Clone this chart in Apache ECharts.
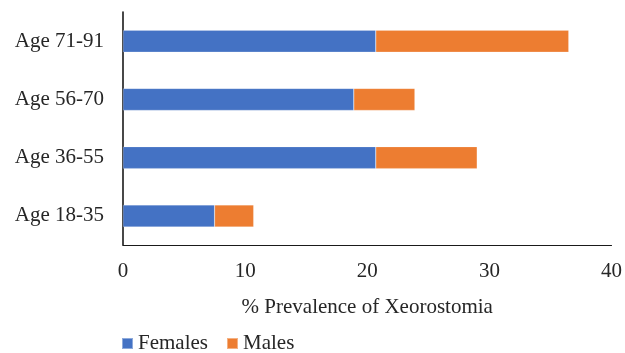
<!DOCTYPE html>
<html>
<head>
<meta charset="utf-8">
<script src="https://cdn.jsdelivr.net/npm/echarts@6/dist/echarts.min.js"></script>
<style>
  html, body { margin: 0; padding: 0; background: #fff; }
  #chart { width: 625px; height: 353px; }
</style>
</head>
<body>
<div id="chart"></div>
<script>
// Age groups, bottom to top
const ageGroups = ['Age 18-35', 'Age 36-55', 'Age 56-70', 'Age 71-91'];
// % prevalence of xerostomia by sex
const females = [7.5, 20.7, 18.9, 20.7];
const males = [3.2, 8.3, 5.0, 15.8];
const xTicks = { min: 0, max: 40, interval: 10 };

const font = 'Liberation Serif';
const textColor = '#262626';

const chart = echarts.init(document.getElementById('chart'));
chart.setOption({
  animation: false,
  textStyle: { fontFamily: font },
  grid: { left: 123, right: 12, top: 12, bottom: 108, containLabel: false },
  legend: {
    data: [
      { name: 'Females', textStyle: { fontFamily: font, fontSize: 21, color: textColor } },
      { name: 'Males', textStyle: { fontFamily: font, fontSize: 21, color: textColor } }
    ],
    left: 121,
    top: 333,
    padding: 0,
    icon: 'rect',
    itemWidth: 11,
    itemHeight: 11,
    itemGap: 18,
    textStyle: { fontFamily: font, fontSize: 21, color: textColor }
  },
  xAxis: {
    type: 'value',
    min: xTicks.min,
    max: xTicks.max,
    interval: xTicks.interval,
    name: '% Prevalence of Xeorostomia',
    nameLocation: 'middle',
    nameGap: 52,
    nameTextStyle: { fontFamily: font, fontSize: 21, color: textColor },
    axisLine: { show: true, lineStyle: { color: '#1a1a1a', width: 1.2 } },
    axisTick: { show: false },
    splitLine: { show: false },
    axisLabel: { fontFamily: font, fontSize: 21, color: textColor, margin: 16 }
  },
  yAxis: {
    type: 'category',
    data: ageGroups,
    axisLine: { show: true, lineStyle: { color: '#1a1a1a', width: 1.6 } },
    axisTick: { show: false },
    axisLabel: { fontFamily: font, fontSize: 21, color: textColor, margin: 19 }
  },
  series: [
    {
      name: 'Females',
      type: 'bar',
      stack: 'total',
      data: females,
      barWidth: 22,
      itemStyle: { color: '#4472C4', borderColor: 'rgba(255,255,255,0.4)', borderWidth: 0.5 }
    },
    {
      name: 'Males',
      type: 'bar',
      stack: 'total',
      data: males,
      barWidth: 22,
      itemStyle: { color: '#ED7D31', borderColor: 'rgba(255,255,255,0.4)', borderWidth: 0.5 }
    }
  ]
});
</script>
</body>
</html>
